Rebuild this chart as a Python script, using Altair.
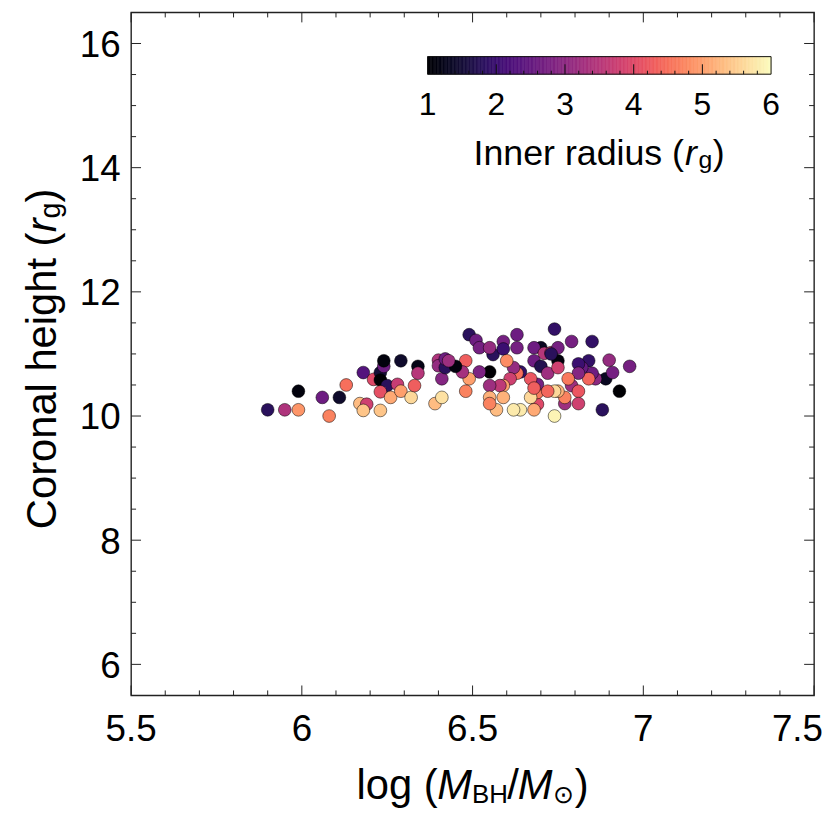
import altair as alt
import pandas as pd

# ---- data ----
x_vals = [5.90, 5.95, 5.99, 5.99, 6.06, 6.08, 6.11, 6.13, 6.17, 6.19, 6.18, 6.23, 6.18, 6.21, 6.23, 6.23,
          6.24, 6.24, 6.25, 6.23, 6.28, 6.26, 6.29, 6.29, 6.32, 6.34, 6.34, 6.33, 6.39, 6.41, 6.40, 6.40,
          6.41, 6.42, 6.42,
          6.49, 6.51, 6.52, 6.56, 6.55, 6.59, 6.59, 6.63, 6.63, 6.74, 6.70, 6.68, 6.71, 6.73, 6.75, 6.75,
          6.79, 6.85, 6.84, 6.90, 6.96, 6.93, 6.88, 6.89, 6.91, 6.86, 6.85, 6.82, 6.81, 6.84, 6.81, 6.79,
          6.78, 6.81, 6.81, 6.77, 6.77, 6.75, 6.74, 6.74, 6.69, 6.69, 6.67, 6.68, 6.64, 6.62, 6.69, 6.67,
          6.68, 6.70, 6.72, 6.64, 6.63, 6.62, 6.60, 6.61, 6.59, 6.58, 6.55, 6.55, 6.59, 6.57, 6.55, 6.55,
          6.52, 6.49, 6.48, 6.48, 6.47, 6.45, 6.43, 6.68, 6.73, 6.75, 6.72]
y_vals = [10.10, 10.10, 10.10, 10.40, 10.30, 10.00, 10.30, 10.50, 10.20, 10.19, 10.09, 10.09, 10.70, 10.59,
          10.70, 10.58, 10.80, 10.89, 10.49, 10.39, 10.51, 10.30, 10.40, 10.89, 10.30, 10.80, 10.69, 10.49,
          10.20, 10.30, 10.90, 10.81, 10.60, 10.78, 10.92,
          11.31, 11.22, 11.10, 10.99, 11.10, 11.20, 11.08, 11.31, 11.10, 11.40, 11.10, 11.10, 11.01, 11.02,
          11.10, 10.89, 11.20, 11.20, 10.89, 10.90, 10.80, 10.40, 10.10, 10.60, 10.70, 10.60, 10.69, 10.78,
          10.84, 10.60, 10.69, 10.49, 10.60, 10.40, 10.20, 10.20, 10.30, 10.40, 10.40, 10.00, 10.19, 10.38,
          10.30, 10.10, 10.10, 10.10, 10.51, 10.60, 10.89, 10.80, 10.69, 10.71, 10.69, 10.78, 10.89, 10.60,
          10.49, 10.49, 10.49, 10.30, 10.30, 10.10, 10.20, 10.71, 10.71, 10.60, 10.89, 10.40, 10.71, 10.80,
          10.89, 10.45, 11.00, 10.78, 10.40]
r_vals = [1.8, 3.4, 4.9, 1.1, 2.6, 4.7, 1.4, 4.5, 5.3, 3.8, 5.4, 5.4, 2.3, 4.0, 1.5, 1.0, 2.6, 1.1, 1.8,
          4.1, 3.7, 5.1, 5.0, 1.4, 5.6, 1.2, 3.5, 4.3, 5.3, 5.7, 3.4, 3.1, 2.9, 1.8, 2.6,
          1.8, 2.6, 2.7, 1.8, 3.1, 2.7, 2.0, 2.6, 2.7, 1.9, 1.3, 2.6, 3.5, 3.8, 2.7, 1.1, 2.7, 1.9, 1.9,
          3.1, 2.7, 1.0, 1.8, 1.3, 2.7, 3.0, 2.6, 2.5, 2.0, 4.4, 2.9, 3.2, 4.6, 4.2, 3.8, 3.2, 4.7, 5.2,
          5.6, 5.9, 4.0, 4.6, 5.6, 5.1, 5.8, 5.8, 2.7, 4.2, 2.6, 1.7, 3.2, 1.9, 4.5, 3.1, 4.8, 3.8, 5.0,
          3.6, 3.2, 5.2, 5.2, 5.3, 4.7, 1.0, 2.8, 5.0, 4.3, 4.7, 3.3, 1.1, 3.2, 4.3, 1.8, 3.8, 4.4]

x_major = [5.5, 6.0, 6.5, 7.0, 7.5]
x_tick_labels = ["5.5", "6", "6.5", "7", "7.5"]
x_minor = [5.6, 5.7, 5.8, 5.9, 6.1, 6.2, 6.3, 6.4, 6.6, 6.7, 6.8, 6.9, 7.1, 7.2, 7.3, 7.4]
y_major = [6, 8, 10, 12, 14, 16]
y_tick_labels = ["6", "8", "10", "12", "14", "16"]
y_minor = [6.5, 7, 7.5, 8.5, 9, 9.5, 10.5, 11, 11.5, 12.5, 13, 13.5, 14.5, 15, 15.5]
cb_major = [1, 2, 3, 4, 5, 6]
cb_tick_labels = ["1", "2", "3", "4", "5", "6"]
cb_minor = [1.2, 1.4, 1.6, 1.8, 2.2, 2.4, 2.6, 2.8, 3.2, 3.4, 3.6, 3.8, 4.2, 4.4, 4.6, 4.8,
            5.2, 5.4, 5.6, 5.8]

W = 688
H = 688
OX = 132.0   # absolute page x of plot origin
OY = 9.5     # absolute page y of plot origin
FONT = "Liberation Sans"

df = pd.DataFrame({"x": x_vals, "y": y_vals, "r": r_vals})

xs = alt.Scale(domain=[5.5, 7.5], nice=False, zero=False)
ys = alt.Scale(domain=[5.5, 16.5], nice=False, zero=False)
cs = alt.Scale(scheme="magma", domain=[1, 6])

points = alt.Chart(df).mark_circle(size=165, opacity=1, stroke="black", strokeWidth=0.5).encode(
    x=alt.X("x:Q", scale=xs, axis=None),
    y=alt.Y("y:Q", scale=ys, axis=None),
    color=alt.Color("r:Q", scale=cs, legend=None),
)

TICK_COLOR = "#222222"


def tick_layer(vals, side, length):
    d = pd.DataFrame({"v": vals})
    base = alt.Chart(d).mark_rule(color=TICK_COLOR, strokeWidth=1)
    if side == "bottom":
        return base.encode(x=alt.X("v:Q", scale=xs, axis=None), y=alt.value(H), y2=alt.value(H - length))
    if side == "top":
        return base.encode(x=alt.X("v:Q", scale=xs, axis=None), y=alt.value(0), y2=alt.value(length))
    if side == "left":
        return base.encode(y=alt.Y("v:Q", scale=ys, axis=None), x=alt.value(0), x2=alt.value(length))
    return base.encode(y=alt.Y("v:Q", scale=ys, axis=None), x=alt.value(W), x2=alt.value(W - length))


ticks = []
for side in ["bottom", "top"]:
    ticks.append(tick_layer(x_major, side, 10))
    ticks.append(tick_layer(x_minor, side, 5))
for side in ["left", "right"]:
    ticks.append(tick_layer(y_major, side, 10))
    ticks.append(tick_layer(y_minor, side, 5))

# tick labels (the last x label is kept inside the figure, as in the reference)
x_lab = alt.Chart(pd.DataFrame({"v": x_major[:-1], "s": x_tick_labels[:-1]})).mark_text(
    fontSize=37, font=FONT, align="center", baseline="alphabetic", color="black"
).encode(x=alt.X("v:Q", scale=xs, axis=None), y=alt.value(743.3 - OY), text="s:N")
x_lab_last = alt.Chart(pd.DataFrame({"v": x_major[-1:], "s": x_tick_labels[-1:]})).mark_text(
    fontSize=37, font=FONT, align="right", baseline="alphabetic", color="black", dx=9
).encode(x=alt.X("v:Q", scale=xs, axis=None), y=alt.value(743.3 - OY), text="s:N")
y_lab = alt.Chart(pd.DataFrame({"v": y_major, "s": y_tick_labels})).mark_text(
    fontSize=37, font=FONT, align="right", baseline="alphabetic", color="black", dy=13.5
).encode(y=alt.Y("v:Q", scale=ys, axis=None), x=alt.value(121.5 - OX), text="s:N")

one = pd.DataFrame({"a": [0]})


def txt(s, xa, ya, size, italic=False, angle=0):
    kw = dict(text=s, fontSize=size, font=FONT, align="left", baseline="alphabetic", color="black")
    if italic:
        kw["fontStyle"] = "italic"
    if angle:
        kw["angle"] = angle
    return alt.Chart(one).mark_text(**kw).encode(x=alt.value(xa - OX), y=alt.value(ya - OY))


texts = [
    # x title: log (M_BH/M_sun)
    txt("log (", 359, 801.7, 42),
    txt("M", 440.5, 801.7, 42, italic=True),
    txt("BH", 475.5, 806, 26),
    txt("/", 511, 801.7, 42),
    txt("M", 521.5, 801.7, 42, italic=True),
    txt("\u2299", 557, 806, 25),
    txt(")", 579, 801.7, 42),
    # y title: Coronal height (r_g)
    txt("Coronal height (", 56.5, 530, 42, angle=270),
    txt("r", 56.5, 231, 42, italic=True, angle=270),
    txt("g", 60.5, 217, 29, angle=270),
    txt(")", 56.5, 201, 42, angle=270),
    # colorbar title: Inner radius (r_g)
    txt("Inner radius (", 477, 163.3, 36),
    txt("r", 690, 163.3, 36, italic=True),
    txt("g", 703.5, 166.5, 25),
    txt(")", 718, 163.3, 36),
]

main = alt.layer(points, *ticks, x_lab, x_lab_last, y_lab, *texts)

# ---- colorbar drawn with its own linear scale ----
cbs = alt.Scale(domain=[-3.3165, 6.6257], nice=False, zero=False)
CB_TOP = 54.0 - OY
CB_BOT = 71.7 - OY
step = 0.02
cb_steps = [round(1 + i * step, 4) for i in range(int(round(5 / step)))]
cb_df = pd.DataFrame({"t": cb_steps})

cb_rects = alt.Chart(cb_df).transform_calculate(
    t1="datum.t + 0.02", tm="datum.t + 0.01"
).mark_rect(strokeWidth=0.6).encode(
    x=alt.X("t:Q", scale=cbs, axis=None),
    x2="t1:Q",
    y=alt.value(CB_TOP),
    y2=alt.value(CB_BOT),
    color=alt.Color("tm:Q", scale=cs, legend=None),
    stroke=alt.Stroke("tm:Q", scale=alt.Scale(scheme="magma", domain=[1, 6]), legend=None),
)

cb_border = alt.Chart(pd.DataFrame({"a": [1], "b": [6]})).mark_rect(
    fillOpacity=0, stroke="#111111", strokeWidth=1
).encode(x=alt.X("a:Q", scale=cbs, axis=None), x2="b:Q", y=alt.value(CB_TOP), y2=alt.value(CB_BOT))

cb_tmaj = alt.Chart(pd.DataFrame({"t": cb_major[1:-1]})).mark_rule(color="#111111", strokeWidth=1).encode(
    x=alt.X("t:Q", scale=cbs, axis=None), y=alt.value(CB_BOT), y2=alt.value(CB_BOT - 10))
cb_tmin = alt.Chart(pd.DataFrame({"t": cb_minor})).mark_rule(color="#111111", strokeWidth=1).encode(
    x=alt.X("t:Q", scale=cbs, axis=None), y=alt.value(CB_BOT), y2=alt.value(CB_BOT - 3.5))

cb_labels = alt.Chart(pd.DataFrame({"t": cb_major, "s": cb_tick_labels})).mark_text(
    fontSize=32, font=FONT, align="center", baseline="alphabetic", color="black"
).encode(x=alt.X("t:Q", scale=cbs, axis=None), y=alt.value(112.5 - OY), text="s:N")

cb = alt.layer(cb_rects, cb_border, cb_tmaj, cb_tmin, cb_labels)

chart = alt.layer(main, cb).resolve_scale(x="independent", stroke="independent").properties(
    width=W, height=H,
    background="white",
    autosize=alt.AutoSizeParams(type="none"),
    padding={"left": OX - 8, "top": OY - 8, "right": 8, "bottom": 120},
).configure_view(stroke="#222222", strokeWidth=1.4)

chart.save("out.html", embed_options={"renderer": "svg", "actions": False})
